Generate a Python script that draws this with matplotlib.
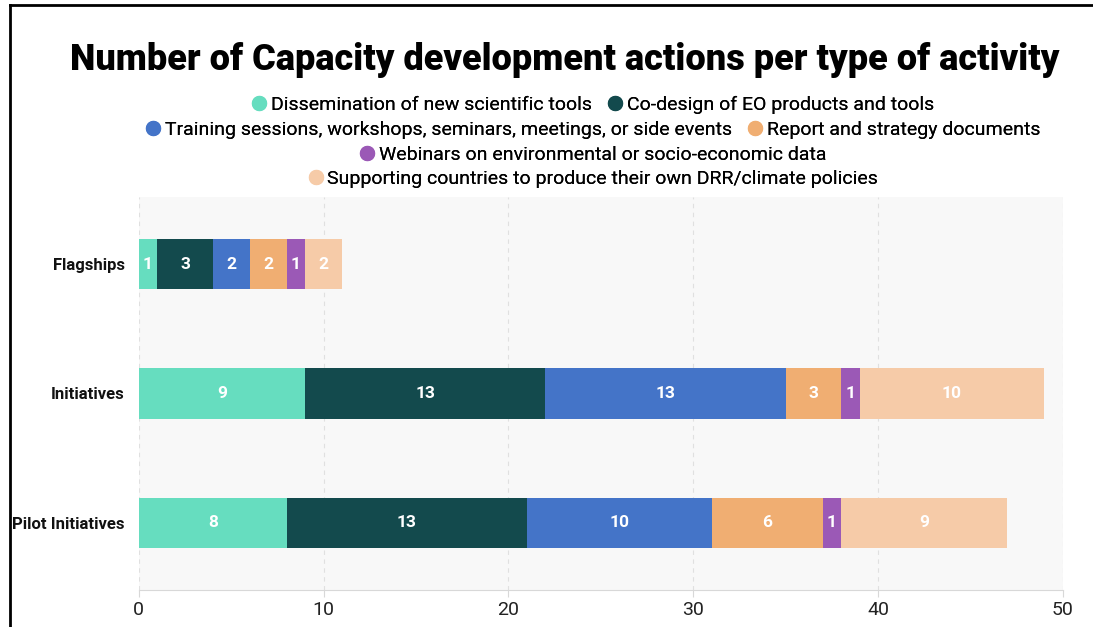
import matplotlib
matplotlib.use('Agg')
import matplotlib.pyplot as plt
from matplotlib.lines import Line2D

plt.rcParams['font.family'] = ['Roboto', 'DejaVu Sans']

groups = ['Flagships', 'Initiatives', 'Pilot Initiatives']
series_names = [
    'Dissemination of new scientific tools',
    'Co-design of EO products and tools',
    'Training sessions, workshops, seminars, meetings, or side events',
    'Report and strategy documents',
    'Webinars on environmental or socio-economic data',
    'Supporting countries to produce their own DRR/climate policies',
]
dissemination = [1, 9, 8]
codesign = [3, 13, 13]
training = [2, 13, 10]
reports = [2, 3, 6]
webinars = [1, 1, 1]
supporting = [2, 10, 9]
series = [dissemination, codesign, training, reports, webinars, supporting]
colors = ['#66DDBF', '#134A4D', '#4474C8', '#F0AE72', '#9B59B6', '#F6CBA8']

fig = plt.figure(figsize=(10.93, 6.27), dpi=100)
ax = fig.add_axes([0.127, 0.059, 0.8455, 0.627])
ax.set_facecolor('#f8f8f8')

left = [0, 0, 0]
for vals, col in zip(series, colors):
    bars = ax.barh(groups, vals, left=left, height=0.39, color=col, zorder=3)
    for b, v in zip(bars, vals):
        ax.text(b.get_x() + b.get_width() / 2, b.get_y() + b.get_height() / 2, str(v),
                ha='center', va='center', color='white', fontsize=12.5, fontweight='bold', zorder=4)
    left = [l + v for l, v in zip(left, vals)]

ax.set_xlim(0, 50)
ax.set_ylim(2.52, -0.52)
ax.set_xticks([0, 10, 20, 30, 40, 50])
ax.grid(axis='x', color='#e0e0e0', linestyle=(0, (4, 4)), linewidth=0.8, zorder=0)
for s in ['top', 'right', 'left']:
    ax.spines[s].set_visible(False)
ax.spines['bottom'].set_color('#d8d8d8')
ax.tick_params(axis='x', colors='#d8d8d8', labelcolor='#222222', labelsize=14, length=5, pad=3)
ax.tick_params(axis='y', length=0, pad=10)
for lab in ax.get_yticklabels():
    lab.set_fontweight('bold')
    lab.set_fontsize(12)
    lab.set_color('#111111')

fig.text(0.517, 0.904, 'Number of Capacity development actions per type of activity',
         ha='center', va='center', fontsize=26, fontweight='black', color='black')

rows = [[0, 1], [2, 3], [4], [5]]
row_y = [105, 130, 155, 179]
for r, yp in zip(rows, row_y):
    handles = [Line2D([], [], marker='o', linestyle='', markersize=10,
                      markerfacecolor=colors[i], markeredgecolor=colors[i]) for i in r]
    leg = fig.legend(handles, [series_names[i] for i in r], loc='center',
                     bbox_to_anchor=(0.5425, 1 - yp / 627), ncol=len(r), frameon=False,
                     fontsize=14, handletextpad=0.2, columnspacing=0.8, handlelength=0.8,
                     borderaxespad=0, borderpad=0)
    fig.add_artist(leg)

# frame lines
fig.add_artist(Line2D([10 / 1093, 1], [1 - 5 / 627, 1 - 5 / 627], color='black', linewidth=2))
fig.add_artist(Line2D([10 / 1093, 10 / 1093], [0, 1 - 5 / 627], color='black', linewidth=2))

fig.savefig('out.png', dpi=100)
